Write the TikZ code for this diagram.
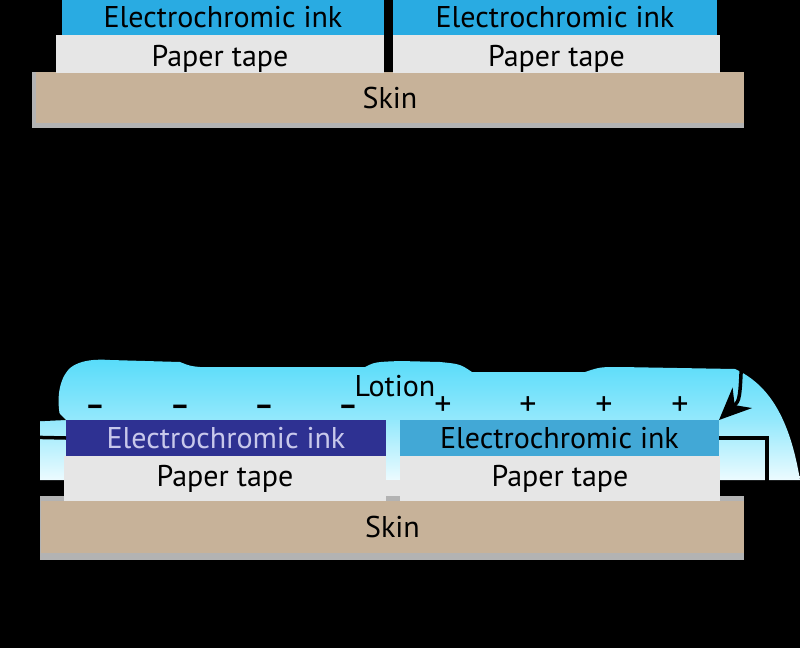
\documentclass[tikz,border=0pt]{standalone}
\usepackage{fontspec}
\setmainfont{PT Sans}
\usetikzlibrary{arrows.meta,positioning,calc}
\definecolor{inkcol}{RGB}{41,171,226}
\definecolor{inkdark}{RGB}{46,49,146}
\definecolor{inkmid}{RGB}{66,168,214}
\definecolor{inkpale}{RGB}{200,200,235}
\definecolor{tapecol}{RGB}{230,230,230}
\definecolor{skincol}{RGB}{199,178,153}
\definecolor{edgecol}{RGB}{179,179,179}
\definecolor{lotiontop}{RGB}{88,220,250}
\definecolor{lotionbot}{RGB}{236,251,255}
\tikzset{
  layer/.style  = {rectangle, fill=#1, inner sep=0pt, outer sep=0pt,
                   font=\fontsize{30}{32}\selectfont},
  ink/.style    = {layer=#1, minimum height=35pt},
  tape/.style   = {layer=tapecol, minimum height=38pt},
  skin/.style   = {layer=skincol, minimum height=51pt},
  sign/.style   = {inner sep=0pt, font=\fontsize{#1}{#1}\selectfont},
  wire/.style   = {line width=3.5pt, draw=black},
  pointer/.style = {line width=3.5pt, draw=black, -{Stealth[length=32pt,width=28pt]}},
}

\begin{document}
\begin{tikzpicture}[x=1pt, y=-1pt]
  \fill[black] (0,0) rectangle (800,648);
  \useasboundingbox (0,0) rectangle (800,648);

  % dry skin
  \fill[edgecol] (32,72) rectangle (744,128);
  \node[skin, minimum width=708pt, anchor=north west] (skinT) at (36,72) {Skin};
  \node[ink=inkcol, minimum width=322pt, anchor=north west] (inkLt) at (62,0) {Electrochromic ink};
  \node[ink=inkcol, minimum width=324pt, anchor=north west] (inkRt) at (393,0) {Electrochromic ink};
  \node[tape, text height=24pt, text depth=0pt, minimum width=328pt, anchor=north east] (tapeLt) at (inkLt.south east) {Paper tape};
  \node[tape, text height=24pt, text depth=0pt, minimum width=327pt, anchor=north west] (tapeRt) at (inkRt.south west) {Paper tape};

  % with lotion
  \fill[top color=lotiontop, bottom color=lotionbot, middle color=lotiontop!60!lotionbot]
    (40,480) -- (40,418) .. controls (46,412) and (54,410) .. (60,416)
    .. controls (57,400) and (58,380) .. (70,368)
    .. controls (80,360) and (95,359) .. (110,360) -- (180,362)
    .. controls (190,366) .. (200,367) -- (365,367)
    .. controls (375,362) .. (400,361) -- (440,362)
    .. controls (460,364) .. (472,372) -- (585,372)
    .. controls (600,367) .. (620,367) -- (735,369)
    .. controls (770,385) and (790,420) .. (800,480) -- cycle;
  \fill[tapecol] (386,480) rectangle (400,501);
  \fill[edgecol] (40,496) rectangle (744,560);
  \node[skin, minimum width=703pt, minimum height=52pt, anchor=north west] (skinB) at (41,501) {Skin};
  \node[ink=inkdark, text=inkpale, minimum width=320pt, minimum height=36pt, anchor=north west] (inkLb) at (66,420) {Electrochromic ink};
  \node[ink=inkmid, minimum width=319pt, minimum height=36pt, anchor=north west] (inkRb) at (400,420) {Electrochromic ink};
  \node[tape, minimum width=322pt, minimum height=45pt, anchor=north east] (tapeLb) at (inkLb.south east) {Paper tape};
  \node[tape, minimum width=320pt, minimum height=45pt, anchor=north west] (tapeRb) at (inkRb.south west) {Paper tape};

  \node[layer=none, fill=none] (lotion) at (395,386) {Lotion};
  \foreach \x [count=\i] in {95,180,264,348}
    \node[sign=30] (m\i) at (\x,410) {\bfseries –};
  \foreach \x [count=\i] in {443,528,604,680}
    \node[sign=34] (p\i) at (\x,406) {+};

  \coordinate (wireL) at (20,437);
  \coordinate (wireR) at (767,492);
  \draw[wire] (inkLb.west) -- (wireL);
  \draw[wire] (inkRb.east) -| (wireR);

  \coordinate (arrL) at (5,402);
  \coordinate (arrR) at (742,350);
  \draw[pointer] (arrL) .. controls (40,410) .. (inkLb.north west);
  \draw[pointer] (arrR) .. controls (740,400) .. (inkRb.north east);
\end{tikzpicture}
\end{document}
